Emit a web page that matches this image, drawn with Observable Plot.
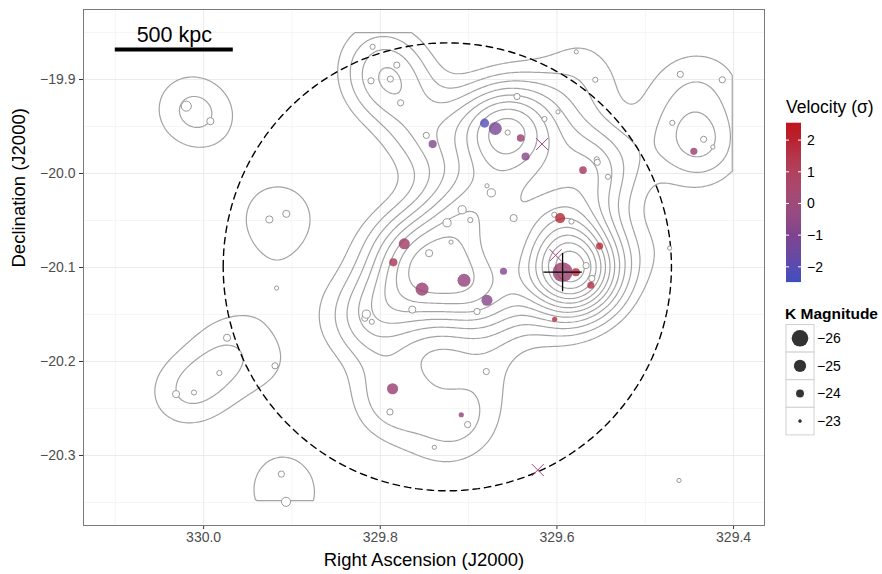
<!DOCTYPE html>
<html><head><meta charset="utf-8">
<script src="https://cdn.jsdelivr.net/npm/d3@7"></script>
<script src="https://cdn.jsdelivr.net/npm/@observablehq/plot@0.6"></script>
<style>
body{margin:0;background:#fff;}
#wrap{position:relative;width:882px;height:574px;overflow:hidden;background:#fff;font-family:"Liberation Sans",Arial,sans-serif;}
#wrap svg{position:absolute;left:0;top:0;}
</style></head><body><div id="wrap"></div>
<script>
// ---- Member galaxies (filled, coloured by velocity, sized by K magnitude)
const memRA  = [329.6819,329.6698,329.6411,329.6355,329.5705,329.7407,329.4450,329.5964,329.5517,329.7728,329.7852,329.7527,329.7052,329.6792,329.6605,329.5936,329.5786,329.5616,329.6026,329.7861,329.7083];
const memDec = [-19.9464,-19.9521,-19.9623,-19.9819,-19.9964,-19.9687,-19.9764,-20.0474,-20.0772,-20.0748,-20.0945,-20.1230,-20.1136,-20.1349,-20.1040,-20.1049,-20.1051,-20.1189,-20.1551,-20.2290,-20.2567];
const memK   = [-24.27,-25.18,-23.91,-24.05,-23.91,-24.05,-23.82,-24.50,-23.82,-24.73,-24.05,-25.18,-25.18,-24.73,-23.82,-26.77,-24.05,-23.82,-23.36,-24.73,-23.36];
const memVel = [-2.1,-1.2,-0.1,-0.8,0.8,-0.9,0.0,1.9,1.7,0.5,0.8,0.0,-0.3,-0.8,-0.9,0.1,1.6,1.4,1.6,0.0,-0.3];

// ---- Other galaxies (open circles)
const othRA  = [330.0196,329.9924,329.9256,329.9064,329.8087,329.7813,329.8105,329.7886,329.7770,329.7479,329.6452,329.6558,329.6141,329.5988,329.5549,329.5543,329.5422,329.6792,329.6743,329.5781,329.5566,329.4603,329.4128,329.4694,329.4339,329.4235,329.7073,329.7244,329.6981,329.6490,329.7199,329.7447,329.6030,329.5835,329.4724,329.5670,329.5605,329.7638,329.6905,329.8158,329.8175,329.8096,329.9174,329.9735,329.9192,329.9822,330.0312,330.0109,329.9120,329.9067,329.7890,329.6800,329.7011,329.7388,329.4618];
const othDec = [-19.9283,-19.9443,-20.0489,-20.0429,-19.8652,-19.8847,-19.9014,-19.8995,-19.9248,-19.9594,-19.9181,-19.9564,-19.9420,-19.9344,-19.9849,-19.9881,-20.0035,-20.0131,-20.0205,-19.8705,-19.9003,-19.8945,-19.9003,-19.9461,-19.9636,-19.9718,-20.0386,-20.0524,-20.0495,-20.0474,-20.0730,-20.0848,-20.0439,-20.0511,-20.0794,-20.0979,-20.1117,-20.1448,-20.1468,-20.1496,-20.1540,-20.1578,-20.1219,-20.1748,-20.2046,-20.2123,-20.2347,-20.2330,-20.3198,-20.3493,-20.2537,-20.2107,-20.2671,-20.2913,-20.3266];
const othK   = [-24.50,-23.82,-23.82,-23.82,-23.36,-23.60,-23.60,-23.60,-23.60,-23.60,-23.60,-23.36,-23.36,-23.14,-23.36,-23.60,-23.36,-23.14,-24.05,-23.14,-23.36,-23.60,-23.60,-23.36,-23.60,-23.14,-24.05,-24.05,-23.36,-23.82,-23.14,-23.82,-23.36,-23.36,-23.14,-23.60,-23.60,-23.82,-23.60,-24.05,-23.60,-23.36,-23.14,-23.82,-23.60,-23.36,-23.82,-23.36,-23.60,-24.27,-23.60,-23.60,-23.60,-23.14,-23.14];

// ---- Cross-marked sources and BCG
const xmRA  = [329.6169,329.6015,329.6217];
const xmDec = [-19.9687,-20.0870,-20.3155];
const bcgRA = [329.5936], bcgDec = [-20.1049];

// ---- Dashed aperture circle, scale bar
const circCenter = [329.7241,-20.0993], circRadius = 0.2383;
const barRA = [330.1000,329.9664], barDec = -19.868, barTextDec = -19.8532, barLabel = "500 kpc";

// ---- Axes, scales, legends
const xDomain = [330.136,329.365], yDomain = [-20.3745,-19.8255];
const xTicks = [330.0,329.8,329.6,329.4], xMinor = [330.1,329.9,329.7,329.5];
const yTicks = [-19.9,-20.0,-20.1,-20.2,-20.3], yMinor = [-19.85,-19.95,-20.05,-20.15,-20.25,-20.35];
const velDomain = [-2.47,2.55], velColors = ["#3d4fc0","#c0161e"];
const velTicks = [2,1,0,-1,-2];
const kTicks = [-26,-25,-24,-23];
const kDomain = [-23,-26], rRange = [1.8,8.3];
const contourRA = [329.4015,330.0966], contourDec = [-20.348,-19.85];
const kdeSigma = 0.034, kdeWeightPow = 0.6, levelStart = 2.0, levelStep = 1.15, levelCount = 20;

const FONT = '"Liberation Sans", Arial, sans-serif';
const minus = v => (v < 0 ? "\u2212" : "") + Math.abs(v);
const fmt1 = v => (v < 0 ? "\u2212" : "") + Math.abs(v).toFixed(1);

const members = memRA.map((ra,i) => ({ra, dec: memDec[i], k: memK[i], vel: memVel[i]}));
const others = othRA.map((ra,i) => ({ra, dec: othDec[i], k: othK[i]}));
const xmarks = xmRA.map((ra,i) => ({ra, dec: xmDec[i]}));
const bcg = bcgRA.map((ra,i) => ({ra, dec: bcgDec[i]}));
const cosD = Math.cos(Math.abs(circCenter[1]) * Math.PI / 180);
const circle = d3.range(0, 361, 2).map(t => {
  const a = t * Math.PI / 180;
  return {ra: circCenter[0] + circRadius / cosD * Math.cos(a), dec: circCenter[1] + circRadius * Math.sin(a)};
});

// density of all galaxies (luminosity weighted)
const gal = [...members, ...others].map(d => ({ra: d.ra, dec: d.dec, w: Math.pow(10, -0.4 * kdeWeightPow * (d.k + 23))}));
const kde = (x, y) => {
  let s = 0;
  for (const g of gal) {
    const dx = (x - g.ra) * cosD / kdeSigma, dy = (y - g.dec) / kdeSigma;
    s += g.w * Math.exp(-0.5 * (dx * dx + dy * dy));
  }
  return s;
};
const levels = d3.range(levelCount).map(i => levelStart + i * levelStep);

const colorOpts = {type: "linear", domain: velDomain, range: velColors, interpolate: "lab"};
const rOpts = {type: "linear", domain: kDomain, range: rRange};

const marks = [
  Plot.gridX(xMinor, {stroke: "#f5f5f5", strokeOpacity: 1}),
  Plot.gridY(yMinor, {stroke: "#f5f5f5", strokeOpacity: 1}),
  Plot.gridX(xTicks, {stroke: "#ebebeb", strokeOpacity: 1}),
  Plot.gridY(yTicks, {stroke: "#ebebeb", strokeOpacity: 1}),
];
if (Plot.contour) {
  marks.push(Plot.contour({x1: contourRA[0], x2: contourRA[1], y1: contourDec[0], y2: contourDec[1], value: kde, thresholds: levels, fill: "none", stroke: "#a3a3a3", strokeWidth: 1.2, pixelSize: 2}));
}
marks.push(
  Plot.line(circle, {x: "ra", y: "dec", stroke: "black", strokeWidth: 1.4, strokeDasharray: "6.5,5"}),
  Plot.dot(others, {x: "ra", y: "dec", r: "k", fill: "white", stroke: "#999999", strokeWidth: 1}),
  Plot.dot(members, {x: "ra", y: "dec", r: "k", fill: "vel", fillOpacity: 0.8}),
  Plot.dot(xmarks, {x: "ra", y: "dec", symbol: "times", r: 5.5, stroke: "#a3437f", strokeWidth: 1}),
  Plot.dot(bcg, {x: "ra", y: "dec", symbol: "plus", r: 12.4, stroke: "black", strokeWidth: 1.3}),
  Plot.ruleY([barDec], {x1: barRA[0], x2: barRA[1], stroke: "black", strokeWidth: 4}),
  Plot.text([barLabel], {x: (barRA[0] + barRA[1]) / 2, y: barTextDec, text: d => d, fontSize: 21.5, fill: "black"}),
  Plot.axisX({ticks: xTicks, tickFormat: fmt1, tickSize: 4, tickPadding: 3, stroke: "#333", fill: "#4d4d4d", fontSize: 14, label: null}),
  Plot.axisY({ticks: yTicks, tickFormat: fmt1, tickSize: 4, tickPadding: 4, stroke: "#333", fill: "#4d4d4d", fontSize: 14, label: null}),
  Plot.frame({stroke: "#7a7a7a", strokeWidth: 1}),
  Plot.text(["Right Ascension (J2000)"], {frameAnchor: "bottom", dy: 40, text: d => d, fontSize: 18.5, fill: "black"}),
  Plot.text(["Declination (J2000)"], {frameAnchor: "left", dx: -64, rotate: -90, text: d => d, fontSize: 18.5, fill: "black"})
);

const plot = Plot.plot({
  width: 882, height: 574,
  marginLeft: 83, marginRight: 118, marginTop: 9, marginBottom: 49,
  x: {domain: xDomain},
  y: {domain: yDomain},
  color: colorOpts,
  r: rOpts,
  style: {fontFamily: FONT, fontSize: "14px", background: "transparent"},
  marks
});
const wrap = document.getElementById("wrap");
wrap.appendChild(plot);

// ---- Legends (built from the same scales)
const cScale = Plot.scale({color: colorOpts});
const rScale = Plot.scale({r: rOpts});
const svg = d3.select(wrap).append("svg").attr("width", 882).attr("height", 574)
  .style("font-family", FONT);

const barX = 786, barW = 15, barTop = 122.7, barBot = 281.7;
const vy = d3.scaleLinear().domain([velDomain[1], velDomain[0]]).range([barTop, barBot]);
svg.append("text").attr("x", 786).attr("y", 113).attr("font-size", 17.5).text("Velocity (\u03c3)");
const nSteps = 160;
for (let i = 0; i < nSteps; i++) {
  const y0 = barTop + (barBot - barTop) * i / nSteps;
  const v = vy.invert(y0 + (barBot - barTop) / nSteps / 2);
  svg.append("rect").attr("x", barX).attr("y", y0).attr("width", barW).attr("height", (barBot - barTop) / nSteps + 0.4)
    .attr("fill", cScale.apply(v));
}
for (const t of velTicks) {
  const y = vy(t);
  svg.append("line").attr("x1", barX).attr("x2", barX + 3).attr("y1", y).attr("y2", y).attr("stroke", "white").attr("stroke-width", 1);
  svg.append("line").attr("x1", barX + barW - 3).attr("x2", barX + barW).attr("y1", y).attr("y2", y).attr("stroke", "white").attr("stroke-width", 1);
  svg.append("text").attr("x", 807).attr("y", y).attr("dy", "0.35em").attr("font-size", 14).text(minus(t));
}

svg.append("text").attr("x", 785).attr("y", 319).attr("font-size", 15.5).attr("font-weight", "bold").text("K Magnitude");
const keyTop = 324.5, keyH = 27.6, keyW = 28;
kTicks.forEach((k, i) => {
  const y0 = keyTop + i * keyH;
  svg.append("rect").attr("x", 786).attr("y", y0).attr("width", keyW).attr("height", keyH)
    .attr("fill", "white").attr("stroke", "#d0d0d0").attr("stroke-width", 1);
  svg.append("circle").attr("cx", 786 + keyW / 2).attr("cy", y0 + keyH / 2).attr("r", rScale.apply(k)).attr("fill", "#333333");
  svg.append("text").attr("x", 817).attr("y", y0 + keyH / 2).attr("dy", "0.35em").attr("font-size", 14).text(minus(k));
});
</script></body></html>
